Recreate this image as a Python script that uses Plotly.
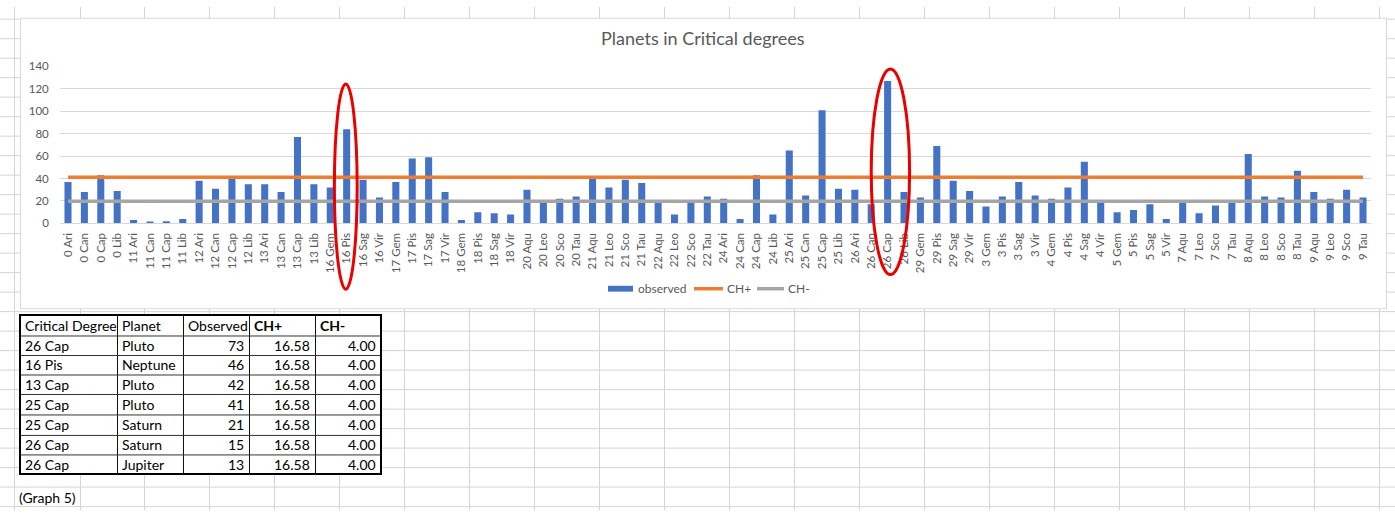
import plotly.graph_objects as go

# ---------------- data ----------------
categories = [
    "0 Ari", "0 Can", "0 Cap", "0 Lib", "11 Ari", "11 Can", "11 Cap", "11 Lib",
    "12 Ari", "12 Can", "12 Cap", "12 Lib", "13 Ari", "13 Can", "13 Cap", "13 Lib",
    "16 Gem", "16 Pis", "16 Sag", "16 Vir", "17 Gem", "17 Pis", "17 Sag", "17 Vir",
    "18 Gem", "18 Pis", "18 Sag", "18 Vir", "20 Aqu", "20 Leo", "20 Sco", "20 Tau",
    "21 Aqu", "21 Leo", "21 Sco", "21 Tau", "22 Aqu", "22 Leo", "22 Sco", "22 Tau",
    "24 Ari", "24 Can", "24 Cap", "24 Lib", "25 Ari", "25 Can", "25 Cap", "25 Lib",
    "26 Ari", "26 Can", "26 Cap", "26 Lib", "29 Gem", "29 Pis", "29 Sag", "29 Vir",
    "3 Gem", "3 Pis", "3 Sag", "3 Vir", "4 Gem", "4 Pis", "4 Sag", "4 Vir",
    "5 Gem", "5 Pis", "5 Sag", "5 Vir", "7 Aqu", "7 Leo", "7 Sco", "7 Tau",
    "8 Aqu", "8 Leo", "8 Sco", "8 Tau", "9 Aqu", "9 Leo", "9 Sco", "9 Tau",
]
observed = [
    37, 28, 43, 29, 3, 1, 2, 4,
    38, 31, 41, 35, 35, 28, 77, 35,
    32, 84, 39, 23, 37, 58, 59, 28,
    3, 10, 9, 8, 30, 19, 22, 24,
    40, 32, 39, 36, 19, 8, 19, 24,
    22, 4, 43, 8, 65, 25, 101, 31,
    30, 17, 127, 28, 23, 69, 38, 29,
    15, 24, 37, 25, 22, 32, 55, 19,
    10, 12, 17, 4, 19, 9, 16, 19,
    62, 24, 23, 47, 28, 22, 30, 23,
]
CH_PLUS = 41.1
CH_MINUS = 19.7
highlighted = ["16 Pis", "26 Cap"]
series_names = ["observed", "CH+", "CH-"]
series_colors = ["#4472C4", "#ED7D31", "#A5A5A5"]

table_headers = ["Critical Degree", "Planet", "Observed", "CH+", "CH-"]
table_degree = ["26 Cap", "16 Pis", "13 Cap", "25 Cap", "25 Cap", "26 Cap", "26 Cap"]
table_planet = ["Pluto", "Neptune", "Pluto", "Pluto", "Saturn", "Saturn", "Jupiter"]
table_observed = [73, 46, 42, 41, 21, 15, 13]
table_chplus = [16.58, 16.58, 16.58, 16.58, 16.58, 16.58, 16.58]
table_chminus = [4.00, 4.00, 4.00, 4.00, 4.00, 4.00, 4.00]

# ---------------- geometry helpers ----------------
W, H = 1395, 516
FONT = "Lato"
GREY_TXT = "#595959"


def fx(x):
    return x / W


def fy(y):
    return 1 - y / H


shapes = []
annotations = []

# spreadsheet grid background
col_x = [14, 80, 144, 209, 274, 339, 404, 469, 534, 599, 664, 729, 794, 859,
         924, 989, 1054, 1119, 1184, 1249, 1314, 1379]
row_y = [12 + 20 * k for k in range(26)]
path = ""
for x in col_x:
    path += f"M{fx(x + 0.5)},{fy(0)} L{fx(x + 0.5)},{fy(H)} "
for y in row_y:
    path += f"M{fx(0)},{fy(y + 0.5)} L{fx(W)},{fy(y + 0.5)} "
shapes.append(dict(type="path", path=path, xref="paper", yref="paper",
                   line=dict(color="#d4d4d4", width=1), layer="below"))

# chart area box
shapes.append(dict(type="rect", xref="paper", yref="paper",
                   x0=fx(20.5), x1=fx(1386.5), y0=fy(309.5), y1=fy(11.5),
                   fillcolor="white", line=dict(color="#d9d9d9", width=1), layer="below"))

# ---------------- table ----------------
tcol = [20, 117, 183, 249, 315, 381]
trow = [316, 337, 357, 377, 397, 418, 439, 459, 479]
shapes.append(dict(type="rect", xref="paper", yref="paper",
                   x0=fx(tcol[0]), x1=fx(tcol[-1]), y0=fy(trow[-1]), y1=fy(trow[0]),
                   fillcolor="white", line=dict(width=0), layer="below"))
for x in tcol[1:-1]:
    shapes.append(dict(type="line", xref="paper", yref="paper",
                       x0=fx(x + 0.5), x1=fx(x + 0.5), y0=fy(trow[0]), y1=fy(trow[-1]),
                       line=dict(color="#111111", width=1)))
for y in trow[1:-1]:
    shapes.append(dict(type="line", xref="paper", yref="paper",
                       x0=fx(tcol[0]), x1=fx(tcol[-1]), y0=fy(y + 0.5), y1=fy(y + 0.5),
                       line=dict(color="#333333", width=1)))
shapes.append(dict(type="rect", xref="paper", yref="paper",
                   x0=fx(tcol[0]), x1=fx(tcol[-1]), y0=fy(trow[-1]), y1=fy(trow[0]),
                   line=dict(color="black", width=2)))

cell_font = dict(family=FONT, size=14, color="black")


def cell_text(text, col, row, align="left", bold=False):
    yc = (trow[row] + trow[row + 1]) / 2
    if align == "left":
        x, xa = tcol[col] + 3, "left"
    else:
        x, xa = tcol[col + 1] - 3, "right"
    annotations.append(dict(
        text=f"<b>{text}</b>" if bold else text, x=fx(x), y=fy(yc),
        xref="paper", yref="paper", xanchor=xa, yanchor="middle",
        showarrow=False, font=cell_font))


for j, h in enumerate(table_headers):
    cell_text(h, j, 0, bold=(j >= 3))
for i in range(len(table_degree)):
    cell_text(table_degree[i], 0, i + 1)
    cell_text(table_planet[i], 1, i + 1)
    cell_text(str(table_observed[i]), 2, i + 1, align="right")
    cell_text(f"{table_chplus[i]:.2f}", 3, i + 1, align="right")
    cell_text(f"{table_chminus[i]:.2f}", 4, i + 1, align="right")

annotations.append(dict(text="(Graph 5)", x=fx(17), y=fy(503), xref="paper", yref="paper",
                        xanchor="left", yanchor="middle", showarrow=False,
                        font=dict(family=FONT, size=14, color="black")))

# title
annotations.append(dict(text="Planets in Critical degrees", x=fx(703), y=fy(32),
                        xref="paper", yref="paper", xanchor="center", yanchor="middle",
                        showarrow=False, font=dict(family=FONT, size=18, color=GREY_TXT)))

# legend (Excel style: wide swatches)
LEG_Y = 289
leg_items = [(608, 633, 636, "bar"), (694, 723, 725, "line"), (757, 784, 786, "line")]
for name, color, (sx0, sx1, tx, kind) in zip(series_names, series_colors, leg_items):
    if kind == "bar":
        shapes.append(dict(type="rect", xref="paper", yref="paper",
                           x0=fx(sx0), x1=fx(sx1), y0=fy(LEG_Y + 3), y1=fy(LEG_Y - 3),
                           fillcolor=color, line=dict(width=0)))
    else:
        shapes.append(dict(type="line", xref="paper", yref="paper",
                           x0=fx(sx0), x1=fx(sx1), y0=fy(LEG_Y), y1=fy(LEG_Y),
                           line=dict(color=color, width=3.5)))
    annotations.append(dict(text=name, x=fx(tx), y=fy(LEG_Y), xref="paper", yref="paper",
                            xanchor="left", yanchor="middle", showarrow=False,
                            font=dict(family=FONT, size=12, color=GREY_TXT)))

# red highlight ellipses around the categories of interest
ell = [(-0.75, 0.64, 79, 289.5), (-1.0, 1.34, 63.5, 274.5)]
for cat, (dl, dr, ytop, ybot) in zip(highlighted, ell):
    i = categories.index(cat)
    shapes.append(dict(type="circle", xref="x", yref="paper",
                       x0=i + dl, x1=i + dr, y0=fy(ybot), y1=fy(ytop),
                       line=dict(color="rgb(235,0,0)", width=3), fillcolor="rgba(0,0,0,0)"))

# ---------------- traces ----------------
fig = go.Figure()
fig.add_trace(go.Bar(x=categories, y=observed, name=series_names[0],
                     marker=dict(color=series_colors[0], line=dict(width=0))))
fig.add_trace(go.Scatter(x=categories, y=[CH_PLUS] * len(categories), name=series_names[1],
                         mode="lines", line=dict(color=series_colors[1], width=3.5)))
fig.add_trace(go.Scatter(x=categories, y=[CH_MINUS] * len(categories), name=series_names[2],
                         mode="lines", line=dict(color=series_colors[2], width=3.5)))

fig.update_layout(
    width=W, height=H,
    margin=dict(l=0, r=0, t=0, b=0),
    paper_bgcolor="white",
    plot_bgcolor="rgba(0,0,0,0)",
    bargap=0.57,
    showlegend=False,
    xaxis=dict(domain=[fx(59.8), fx(1371.2)], type="category", range=[-0.5, 79.5],
               tickangle=-90, tickfont=dict(family=FONT, size=11.5, color=GREY_TXT),
               showline=True, linecolor="#d9d9d9", linewidth=1, showgrid=False,
               ticks="", ticklabelstandoff=4, fixedrange=True),
    yaxis=dict(domain=[fy(222), fy(61)], range=[0, 140], dtick=20, tick0=0,
               tickfont=dict(family=FONT, size=11.5, color=GREY_TXT),
               showgrid=True, gridcolor="#d9d9d9", gridwidth=1, zeroline=False,
               showline=False, ticks="", ticklabelstandoff=10, fixedrange=True),
    shapes=shapes,
    annotations=annotations,
    font=dict(family=FONT),
)

fig.write_html("out.html", config={"displayModeBar": False},
               post_script="document.body.style.margin='0';document.body.style.overflow='hidden';")
